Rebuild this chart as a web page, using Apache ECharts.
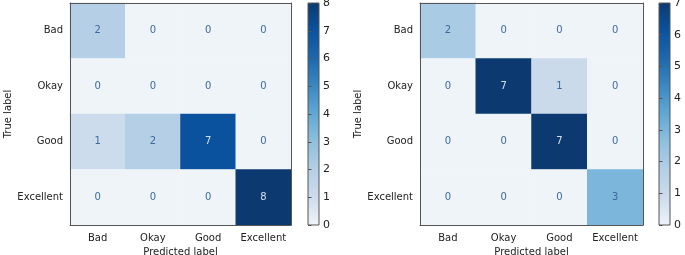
<!DOCTYPE html>
<html>
<head>
<meta charset="utf-8">
<script src="https://cdn.jsdelivr.net/npm/echarts@6/dist/echarts.min.js"></script>
<style>
  html, body { margin: 0; padding: 0; background: #fff; }
  #chart { width: 685px; height: 255px; }
</style>
</head>
<body>
<div id="chart"></div>
<script>
const categories = ['Bad', 'Okay', 'Good', 'Excellent'];
// rows = true label, cols = predicted label
const matrixLeft = [
  [2, 0, 0, 0],
  [0, 0, 0, 0],
  [1, 2, 7, 0],
  [0, 0, 0, 8]
];
const matrixRight = [
  [2, 0, 0, 0],
  [0, 7, 1, 0],
  [0, 0, 7, 0],
  [0, 0, 0, 3]
];
const maxLeft = 8;
const maxRight = 7;

// "Blues"-like ramp, tuned to the tones seen in the picture
const blues = ['#eff4f9', '#cddcec', '#b5cfe6', '#8fc0de', '#62a8d4', '#3b88c2', '#1d68ad', '#0a529e', '#0c3a70'];

const font = 'DejaVu Sans';
const textDark = '#3d6a9e';
const textLight = '#d4e0ee';

function cells(matrix) {
  const vals = matrix.flat();
  const thresh = (Math.max(...vals) + Math.min(...vals)) / 2;
  const out = [];
  matrix.forEach((row, r) => {
    row.forEach((v, c) => {
      out.push({ value: [c, r, v], label: { color: v > thresh ? textLight : textDark } });
    });
  });
  return out;
}

const gradient = new echarts.graphic.LinearGradient(0, 1, 0, 0,
  blues.map((c, i) => ({ offset: i / (blues.length - 1), color: c })));

const frameColor = '#555';
const labelStyle = { fontFamily: font, fontSize: 10, color: '#222' };

function catX(gridIndex) {
  return [{
    type: 'category', data: categories, gridIndex, position: 'bottom', z: 10,
    axisLine: { lineStyle: { color: frameColor, width: 1 } },
    axisTick: { alignWithLabel: true, length: 3.5, lineStyle: { color: frameColor } },
    axisLabel: { ...labelStyle, margin: 8, interval: 0 },
    splitLine: { show: false },
    name: 'Predicted label', nameLocation: 'middle', nameGap: 21,
    nameTextStyle: labelStyle
  }, {
    type: 'category', data: categories, gridIndex, position: 'top', z: 10,
    axisLine: { lineStyle: { color: frameColor, width: 1 } },
    axisTick: { show: false }, axisLabel: { show: false }
  }];
}

function catY(gridIndex) {
  return [{
    type: 'category', data: categories, gridIndex, inverse: true, position: 'left', z: 10,
    axisLine: { lineStyle: { color: frameColor, width: 1 } },
    axisTick: { alignWithLabel: true, length: 3.5, lineStyle: { color: frameColor } },
    axisLabel: { ...labelStyle, margin: 7, interval: 0 },
    name: 'True label', nameLocation: 'middle', nameGap: 57, nameRotate: 90,
    nameTextStyle: labelStyle
  }, {
    type: 'category', data: categories, gridIndex, inverse: true, position: 'right', z: 10,
    axisLine: { lineStyle: { color: frameColor, width: 1 } },
    axisTick: { show: false }, axisLabel: { show: false }
  }];
}

function barY(gridIndex, max) {
  return {
    type: 'value', gridIndex, min: 0, max, interval: 1, position: 'right',
    axisLine: { show: false },
    axisTick: { show: true, length: 3.5, lineStyle: { color: frameColor } },
    axisLabel: { ...labelStyle, fontSize: 11, margin: 4 },
    splitLine: { show: false }
  };
}

function barX(gridIndex) {
  return { type: 'value', gridIndex, show: false, min: 0, max: 1 };
}

const chart = echarts.init(document.getElementById('chart'), null, { renderer: 'canvas' });

chart.setOption({
  animation: false,
  grid: [
    { left: 70, top: 3, width: 221, height: 222, outerBoundsMode: 'none' },
    { left: 308, top: 3, width: 11, height: 222, outerBoundsMode: 'none', show: true, backgroundColor: gradient, borderColor: frameColor, borderWidth: 1 },
    { left: 420, top: 3, width: 223, height: 222, outerBoundsMode: 'none' },
    { left: 659, top: 3, width: 11, height: 222, outerBoundsMode: 'none', show: true, backgroundColor: gradient, borderColor: frameColor, borderWidth: 1 }
  ],
  xAxis: [...catX(0), barX(1), ...catX(2), barX(3)],
  yAxis: [...catY(0), barY(1, maxLeft), ...catY(2), barY(3, maxRight)],
  visualMap: [
    { show: false, seriesIndex: 0, min: 0, max: maxLeft, dimension: 2, inRange: { color: blues } },
    { show: false, seriesIndex: 1, min: 0, max: maxRight, dimension: 2, inRange: { color: blues } }
  ],
  series: [
    {
      type: 'heatmap', xAxisIndex: 0, yAxisIndex: 0, data: cells(matrixLeft),
      label: { show: true, fontFamily: font, fontSize: 10, formatter: p => p.value[2] },
      emphasis: { disabled: true }
    },
    {
      type: 'heatmap', xAxisIndex: 3, yAxisIndex: 3, data: cells(matrixRight),
      label: { show: true, fontFamily: font, fontSize: 10, formatter: p => p.value[2] },
      emphasis: { disabled: true }
    }
  ]
});
</script>
</body>
</html>
